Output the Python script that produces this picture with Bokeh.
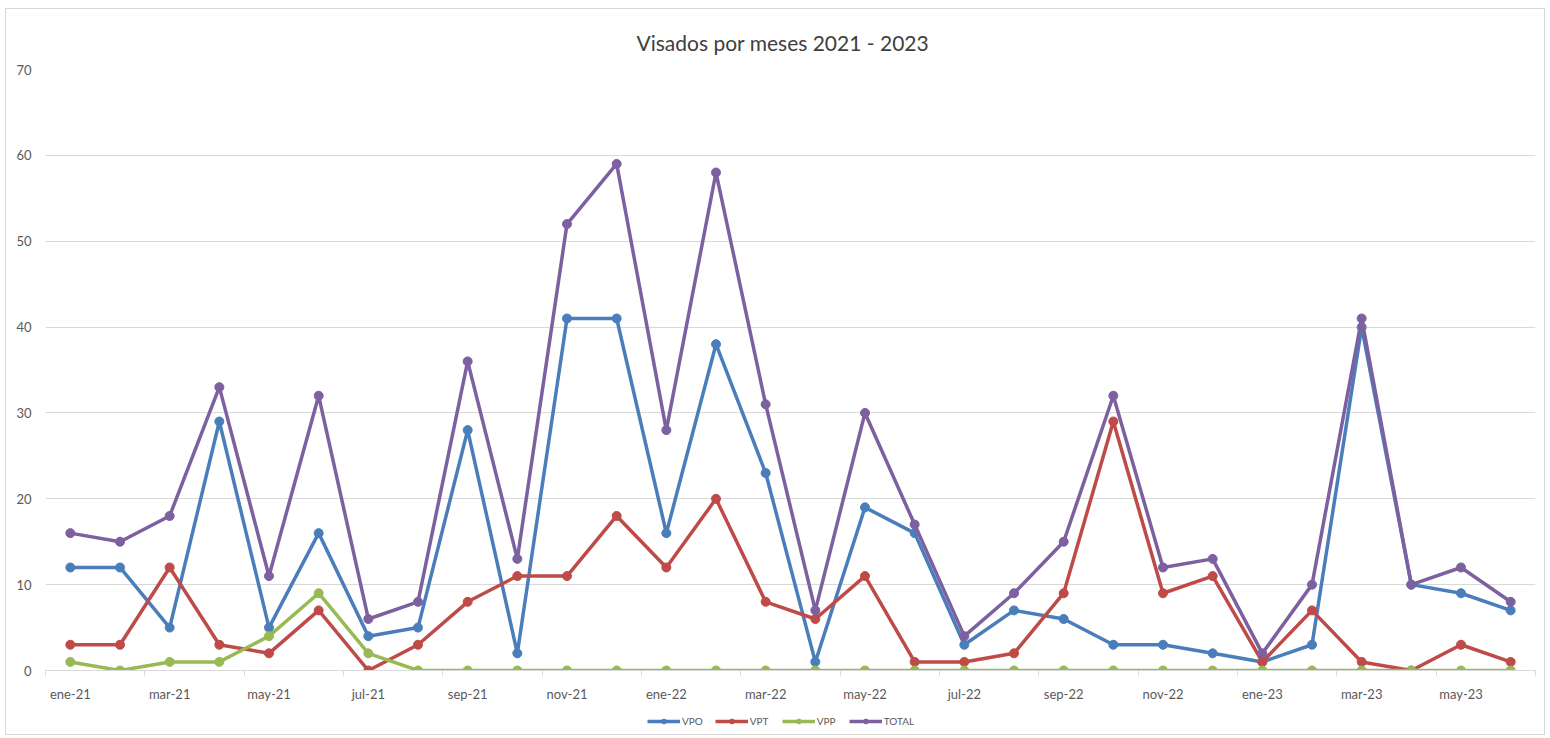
from bokeh.plotting import figure
from bokeh.models import FixedTicker, Legend, LegendItem, Range1d
from bokeh.layouts import column
from bokeh.embed import file_html
from bokeh.resources import INLINE

months = ["ene-21", "feb-21", "mar-21", "abr-21", "may-21", "jun-21", "jul-21", "ago-21", "sep-21", "oct-21",
          "nov-21", "dic-21", "ene-22", "feb-22", "mar-22", "abr-22", "may-22", "jun-22", "jul-22", "ago-22",
          "sep-22", "oct-22", "nov-22", "dic-22", "ene-23", "feb-23", "mar-23", "abr-23", "may-23", "jun-23"]
vpo = [12, 12, 5, 29, 5, 16, 4, 5, 28, 2, 41, 41, 16, 38, 23, 1, 19, 16, 3, 7, 6, 3, 3, 2, 1, 3, 40, 10, 9, 7]
vpt = [3, 3, 12, 3, 2, 7, 0, 3, 8, 11, 11, 18, 12, 20, 8, 6, 11, 1, 1, 2, 9, 29, 9, 11, 1, 7, 1, 0, 3, 1]
vpp = [1, 0, 1, 1, 4, 9, 2, 0, 0, 0, 0, 0, 0, 0, 0, 0, 0, 0, 0, 0, 0, 0, 0, 0, 0, 0, 0, 0, 0, 0]
total = [16, 15, 18, 33, 11, 32, 6, 8, 36, 13, 52, 59, 28, 58, 31, 7, 30, 17, 4, 9, 15, 32, 12, 13, 2, 10, 41, 10, 12, 8]
yticks = [0, 10, 20, 30, 40, 50, 60, 70]

series = [("VPO", vpo, "#4A7EBB"), ("VPT", vpt, "#BE4B48"), ("VPP", vpp, "#98B954"), ("TOTAL", total, "#7D60A0")]

FONT = "Lato"
n = len(months)
xs = list(range(n))

p = figure(output_backend="svg", toolbar_location=None,
           frame_width=1490, frame_height=601,
           min_border_left=39, min_border_right=9, min_border_top=60, min_border_bottom=36,
           x_range=Range1d(-0.5, n - 0.5), y_range=Range1d(0, 70),
           title="Visados por meses 2021 - 2023")
p.title.align = "left"
p.title.offset = 591
p.title.text_font = FONT
p.title.text_font_size = "21px"
p.title.text_font_style = "normal"
p.title.text_color = "#404040"
p.title.standoff = 30
p.outline_line_color = None

# y axis
p.yaxis.ticker = FixedTicker(ticks=yticks)
p.yaxis.axis_line_color = None
p.yaxis.major_tick_line_color = None
p.yaxis.major_tick_out = 0
p.yaxis.minor_tick_line_color = None
p.yaxis.major_label_text_font = FONT
p.yaxis.major_label_text_font_size = "13px"
p.yaxis.major_label_text_color = "#595959"
p.yaxis.major_label_standoff = 14
p.ygrid.ticker = FixedTicker(ticks=yticks)
p.ygrid.grid_line_color = "#d9d9d9"
p.ygrid.grid_line_width = 1

# x axis
label_pos = xs[::2]
bounds = [i - 0.5 for i in range(0, n + 1, 2)]
p.xaxis.ticker = FixedTicker(ticks=label_pos, minor_ticks=bounds)
p.xaxis.major_label_overrides = {i: months[i] for i in label_pos}
p.xaxis.major_tick_line_color = None
p.xaxis.major_tick_out = 0
p.xaxis.major_tick_in = 0
p.xaxis.minor_tick_line_color = "#d9d9d9"
p.xaxis.minor_tick_out = 5
p.xaxis.minor_tick_in = 0
p.xaxis.axis_line_color = "#d9d9d9"
p.xaxis.major_label_text_font = FONT
p.xaxis.major_label_text_font_size = "13px"
p.xaxis.major_label_text_color = "#595959"
p.xaxis.major_label_standoff = 10
p.xgrid.grid_line_color = None

for name, vals, col in series:
    p.line(xs, vals, line_color=col, line_width=3.5)
    p.scatter(xs, vals, size=9, fill_color=col, line_color=col)

# legend strip (separate figure, same series drawn off-range)
lf = figure(output_backend="svg", toolbar_location=None, width=1538, height=28,
            min_border=0, x_axis_type=None, y_axis_type=None,
            x_range=Range1d(0, 1), y_range=Range1d(-1000, -999))
lf.outline_line_color = None
lf.xgrid.grid_line_color = None
lf.ygrid.grid_line_color = None
items = []
for name, vals, col in series:
    r1 = lf.line(xs, vals, line_color=col, line_width=3.5)
    r2 = lf.scatter(xs, vals, size=7, fill_color=col, line_color=col)
    items.append(LegendItem(label=name, renderers=[r1, r2]))
legend = Legend(items=items, orientation="horizontal", location=(602, 7),
                label_text_font=FONT, label_text_font_size="10px", label_text_color="#595959",
                border_line_color=None, background_fill_alpha=0,
                glyph_width=33, glyph_height=12, spacing=12, label_standoff=2, padding=0, margin=0,
                label_height=12)
lf.add_layout(legend)

layout = column(p, lf, spacing=0, styles={"border": "1px solid #d9d9d9", "margin": "8px 0 0 5px"})

open("out.html", "w").write(file_html(layout, INLINE))
